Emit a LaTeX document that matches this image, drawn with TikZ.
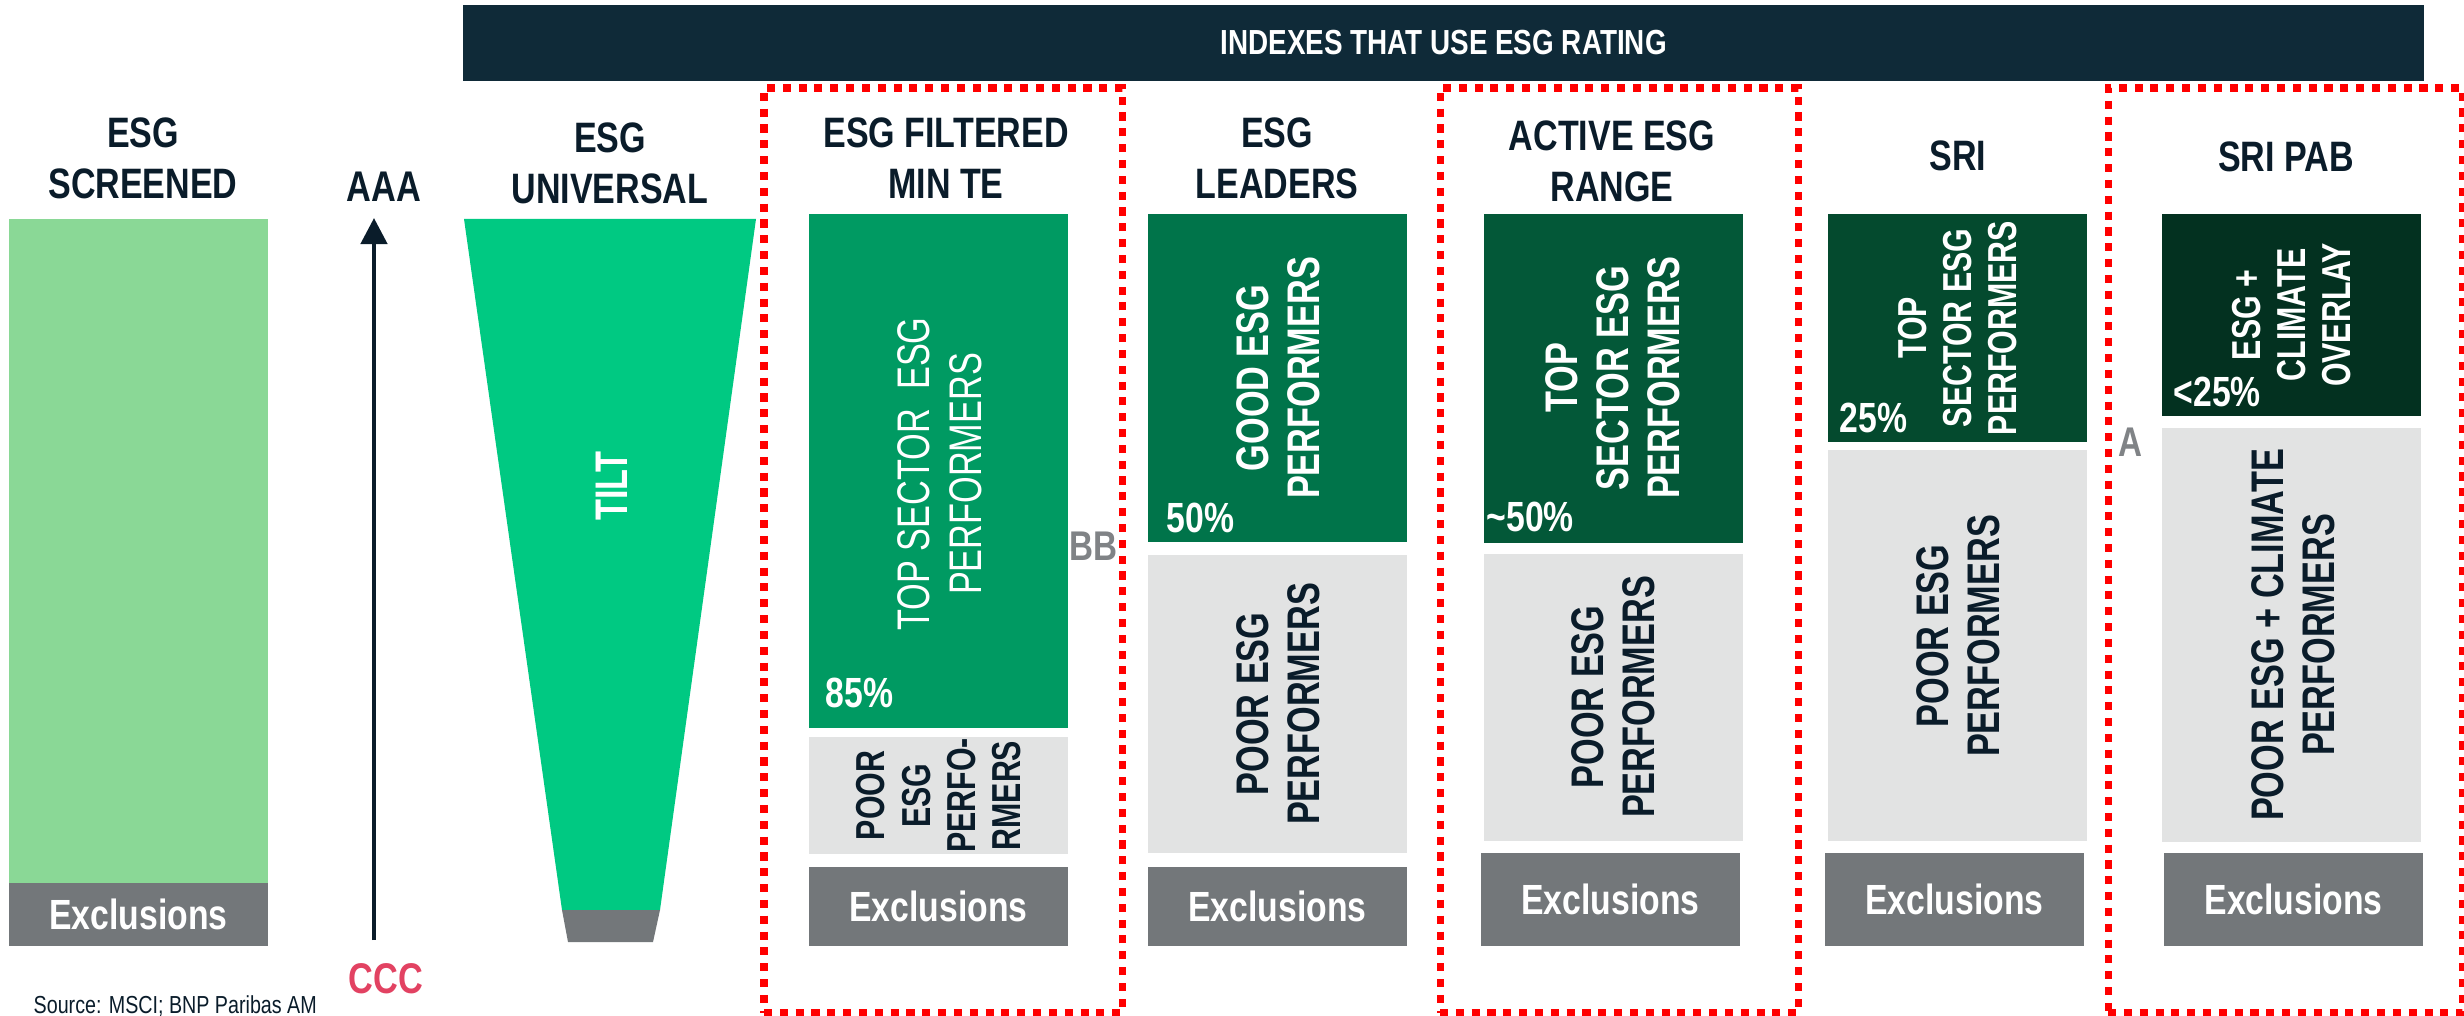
\documentclass[tikz,border=0pt]{standalone}
\usepackage{fontspec}
\setmainfont{Liberation Sans}
\newfontfamily\condsans[FakeStretch=0.8]{Liberation Sans}
\newfontfamily\rotsans[FakeStretch=0.75]{Liberation Sans}
\usetikzlibrary{arrows.meta,positioning}

\definecolor{navy}{RGB}{15,42,56}
\definecolor{inknavy}{RGB}{10,28,42}
\definecolor{screengreen}{RGB}{138,216,150}
\definecolor{unigreen}{RGB}{0,201,130}
\definecolor{fmtgreen}{RGB}{0,154,98}
\definecolor{leadgreen}{RGB}{0,116,74}
\definecolor{activegreen}{RGB}{3,88,56}
\definecolor{srigreen}{RGB}{4,74,46}
\definecolor{pabgreen}{RGB}{3,49,32}
\definecolor{poorgrey}{RGB}{226,227,227}
\definecolor{exclgrey}{RGB}{115,119,122}
\definecolor{ratinggrey}{RGB}{128,131,134}
\definecolor{cccred}{RGB}{226,66,98}

\tikzset{
	block/.style={
			inner sep=0pt,
			outer sep=0pt,
			anchor=north west,
			minimum width=2.59cm
		},
	title/.style={
			align=center,
			inner sep=0pt,
			text=inknavy,
			font=\condsans\bfseries\fontsize{12.1}{14.5}\selectfont
		},
	excl/.style={
			block,
			fill=exclgrey,
			text=white,
			font=\condsans\bfseries\fontsize{12}{14}\selectfont
		},
	poor/.style={block, fill=poorgrey},
	rottext/.style={
			rotate=90,
			align=center,
			inner sep=0pt,
			font=\rotsans\bfseries\fontsize{13}{14.5}\selectfont
		},
	rotsmall/.style={rottext, font=\rotsans\bfseries\fontsize{11.5}{12.8}\selectfont},
	pct/.style={
			anchor=base west,
			inner sep=0pt,
			text=white,
			font=\condsans\bfseries\fontsize{12}{14}\selectfont
		},
	rating/.style={inner sep=0pt, font=\condsans\bfseries\fontsize{12.2}{14}\selectfont},
	redframe/.style={
			draw=red,
			line width=2pt,
			dash pattern=on 2.3pt off 2.2pt,
			inner sep=0pt,
			outer sep=0pt,
			anchor=north west
		}
}

\begin{document}
\begin{tikzpicture}[x=0.01cm, y=-0.01cm]
	\useasboundingbox (0,0) rectangle (2464,1016);

	% header
	\node[block, fill=navy, text=white, minimum width=19.6cm, minimum height=0.76cm,
		font=\condsans\bfseries\fontsize{9.9}{12}\selectfont] (header) at (463,5) {INDEXES THAT USE ESG RATING};

	% titles
	\node[title] (screenT) at (143,158) {ESG\\SCREENED};
	\node[title] (uniT) at (610,163) {ESG\\UNIVERSAL};
	\node[title] (fmtT) at (946,158) {ESG FILTERED\\MIN TE};
	\node[title] (leadT) at (1277,158) {ESG\\LEADERS};
	\node[title] (activeT) at (1612,161) {ACTIVE ESG\\RANGE};
	\node[title] (sriT) at (1958,156) {SRI};
	\node[title] (pabT) at (2286,157) {SRI PAB};

	% esg screened
	\node[block, fill=screengreen, minimum height=6.64cm] (screenTop) at (9,219) {};
	\node[excl, minimum height=0.63cm] (screenExcl) at (9,883) {Exclusions};

	% rating scale
	\node[rating, text=inknavy] (aaa) at (384,187) {AAA};
	\node[rating, text=cccred] (ccc) at (386,979) {CCC};
	\coordinate (arrowBot) at (374,940);
	\coordinate (arrowTop) at (374,218);
	\draw[draw=inknavy, line width=1.3pt, -{Triangle[length=7.4pt,width=7.4pt]}] (arrowBot) -- (arrowTop);

	% esg universal
	\fill[unigreen] (464,219) -- (756,219) -- (660,910) -- (562,910) -- cycle;
	\fill[exclgrey] (562,910) -- (660,910) -- (653,942) -- (568,942) -- cycle;
	\node[rottext, text=white] (tilt) at (612,486) {TILT};

	% esg filtered min te
	\node[block, fill=fmtgreen, minimum height=5.14cm] (fmtTop) at (809,214) {};
	\node[rottext, text=white, font=\rotsans\fontsize{13}{14.8}\selectfont] (fmtTopTxt) at (940,474) {TOP SECTOR\ \ ESG\\PERFORMERS};
	\node[pct] (fmtPct) at (825,707) {85\%};
	\node[poor, minimum height=1.17cm] (fmtPoor) at (809,737) {};
	\node[rotsmall, text=inknavy] (fmtPoorTxt) at (fmtPoor.center) {POOR\\ESG\\PERFO-\\RMERS};
	\node[excl, minimum height=0.79cm] (fmtExcl) at (809,867) {Exclusions};
	\node[rating, text=ratinggrey, font=\condsans\bfseries\fontsize{11.8}{14}\selectfont] (bb) at (1093,546) {BB};

	% esg leaders
	\node[block, fill=leadgreen, minimum height=3.28cm] (leadTop) at (1148,214) {};
	\node[rottext, text=white] (leadTopTxt) at (1278,378) {GOOD ESG\\PERFORMERS};
	\node[pct] (leadPct) at (1166,533) {50\%};
	\node[poor, minimum height=2.98cm] (leadPoor) at (1148,555) {};
	\node[rottext, text=inknavy] (leadPoorTxt) at (1278,704) {POOR ESG\\PERFORMERS};
	\node[excl, minimum height=0.79cm] (leadExcl) at (1148,867) {Exclusions};

	% active esg range
	\node[block, fill=activegreen, minimum height=3.29cm] (activeTop) at (1484,214) {};
	\node[rottext, text=white] (activeTopTxt) at (1613,378) {TOP\\SECTOR ESG\\PERFORMERS};
	\node[pct] (activePct) at (1486,532) {\textasciitilde 50\%};
	\node[poor, minimum height=2.87cm] (activePoor) at (1484,554) {};
	\node[rottext, text=inknavy] (activePoorTxt) at (1613,697) {POOR ESG\\PERFORMERS};
	\node[excl, minimum height=0.93cm] (activeExcl) at (1481,853) {Exclusions};

	% sri
	\node[block, fill=srigreen, minimum height=2.28cm] (sriTop) at (1828,214) {};
	\node[rotsmall, text=white] (sriTopTxt) at (1958,328) {TOP\\SECTOR ESG\\PERFORMERS};
	\node[pct] (sriPct) at (1839,433) {25\%};
	\node[poor, minimum height=3.91cm] (sriPoor) at (1828,450) {};
	\node[rottext, text=inknavy] (sriPoorTxt) at (1958,636) {POOR ESG\\PERFORMERS};
	\node[excl, minimum height=0.93cm] (sriExcl) at (1825,853) {Exclusions};

	% sri pab
	\node[block, fill=pabgreen, minimum height=2.02cm] (pabTop) at (2162,214) {};
	\node[rotsmall, text=white] (pabTopTxt) at (2292,315) {ESG +\\CLIMATE\\OVERLAY};
	\node[pct] (pabPct) at (2173,407) {<25\%};
	\node[poor, minimum height=4.14cm] (pabPoor) at (2162,428) {};
	\node[rottext, text=inknavy] (pabPoorTxt) at (2293,635) {POOR ESG + CLIMATE\\PERFORMERS};
	\node[excl, minimum height=0.93cm] (pabExcl) at (2164,853) {Exclusions};
	\node[rating, text=ratinggrey, font=\condsans\bfseries\fontsize{11.8}{14}\selectfont] (aRating) at (2130,442) {A};

	% red frames
	\node[redframe, minimum width=3.58cm, minimum height=9.24cm] (fmtFrame) at (764,88) {};
	\node[redframe, minimum width=3.58cm, minimum height=9.24cm] (activeFrame) at (1440,88) {};
	\node[redframe, minimum width=3.54cm, minimum height=9.24cm] (pabFrame) at (2108,88) {};

	% source
	\node[anchor=base west, inner sep=0pt, text=inknavy, font=\condsans\fontsize{7}{8}\selectfont] (source) at (33,1013) {Source: MSCI; BNP Paribas AM};
\end{tikzpicture}
\end{document}
